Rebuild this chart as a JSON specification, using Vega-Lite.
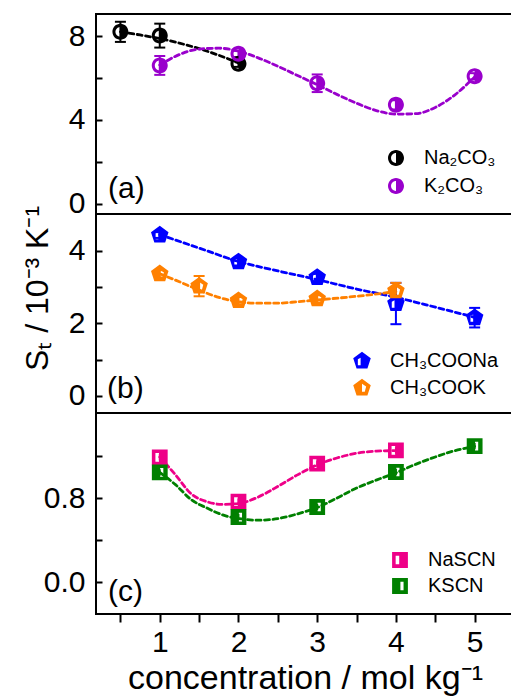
{
  "$schema": "https://vega.github.io/schema/vega-lite/v6.json",
  "padding": {"left": 20, "top": 13, "right": 0, "bottom": 0},
  "config": {
    "font": "Liberation Sans",
    "view": {"stroke": "black", "strokeWidth": 2},
    "axis": {"domain": false, "grid": false, "tickColor": "black", "tickWidth": 2, "labelFont": "Liberation Sans", "labelColor": "black", "labelFontSize": 30, "titleFont": "Liberation Sans", "titleFontWeight": "normal", "titleFontSize": 34, "titleColor": "black"},
    "legend": {"labelFont": "Liberation Sans", "labelFontSize": 20, "labelColor": "black"},
    "line": {"strokeDash": [5, 3.5], "strokeWidth": 2.8, "interpolate": "monotone", "strokeCap": "round"},
    "rule": {"strokeWidth": 2},
    "tick": {"orient": "horizontal", "thickness": 2, "opacity": 1}
  },
  "datasets": {
    "ptsA": [
      {"salt": "Na₂CO₃", "x": 0.5, "y": 8.2, "lo": 7.72, "hi": 8.68},
      {"salt": "Na₂CO₃", "x": 1, "y": 8.02, "lo": 7.45, "hi": 8.59},
      {"salt": "Na₂CO₃", "x": 2, "y": 6.68, "lo": 6.53, "hi": 6.83},
      {"salt": "K₂CO₃", "x": 1, "y": 6.6, "lo": 6.15, "hi": 7.05},
      {"salt": "K₂CO₃", "x": 2, "y": 7.15, "lo": 7.0, "hi": 7.3},
      {"salt": "K₂CO₃", "x": 3, "y": 5.75, "lo": 5.33, "hi": 6.17},
      {"salt": "K₂CO₃", "x": 4, "y": 4.72, "lo": 4.5, "hi": 4.94},
      {"salt": "K₂CO₃", "x": 5, "y": 6.08, "lo": 5.93, "hi": 6.23}
    ],
    "curveA": [
      {"salt": "Na₂CO₃", "x": 0.5, "y": 8.2},
      {"salt": "Na₂CO₃", "x": 0.75, "y": 8.05},
      {"salt": "Na₂CO₃", "x": 1, "y": 7.88},
      {"salt": "Na₂CO₃", "x": 1.25, "y": 7.66},
      {"salt": "Na₂CO₃", "x": 1.5, "y": 7.4},
      {"salt": "Na₂CO₃", "x": 1.75, "y": 7.08},
      {"salt": "Na₂CO₃", "x": 2, "y": 6.72},
      {"salt": "K₂CO₃", "x": 1, "y": 6.62},
      {"salt": "K₂CO₃", "x": 1.25, "y": 7.12},
      {"salt": "K₂CO₃", "x": 1.5, "y": 7.38},
      {"salt": "K₂CO₃", "x": 1.75, "y": 7.42},
      {"salt": "K₂CO₃", "x": 2, "y": 7.28},
      {"salt": "K₂CO₃", "x": 2.25, "y": 6.96},
      {"salt": "K₂CO₃", "x": 2.5, "y": 6.56},
      {"salt": "K₂CO₃", "x": 2.75, "y": 6.12},
      {"salt": "K₂CO₃", "x": 3, "y": 5.68},
      {"salt": "K₂CO₃", "x": 3.25, "y": 5.22},
      {"salt": "K₂CO₃", "x": 3.5, "y": 4.8},
      {"salt": "K₂CO₃", "x": 3.75, "y": 4.45},
      {"salt": "K₂CO₃", "x": 4, "y": 4.28},
      {"salt": "K₂CO₃", "x": 4.25, "y": 4.3},
      {"salt": "K₂CO₃", "x": 4.5, "y": 4.6},
      {"salt": "K₂CO₃", "x": 4.75, "y": 5.2},
      {"salt": "K₂CO₃", "x": 5, "y": 6.05}
    ],
    "ptsB": [
      {"salt": "CH₃COONa", "x": 1, "y": 4.44, "lo": 4.36, "hi": 4.52},
      {"salt": "CH₃COONa", "x": 2, "y": 3.7, "lo": 3.6, "hi": 3.8},
      {"salt": "CH₃COONa", "x": 3, "y": 3.27, "lo": 3.17, "hi": 3.37},
      {"salt": "CH₃COONa", "x": 4, "y": 2.55, "lo": 1.98, "hi": 3.12},
      {"salt": "CH₃COONa", "x": 5, "y": 2.16, "lo": 1.89, "hi": 2.43},
      {"salt": "CH₃COOK", "x": 1, "y": 3.37, "lo": 3.27, "hi": 3.47},
      {"salt": "CH₃COOK", "x": 1.5, "y": 3.03, "lo": 2.75, "hi": 3.31},
      {"salt": "CH₃COOK", "x": 2, "y": 2.63, "lo": 2.53, "hi": 2.73},
      {"salt": "CH₃COOK", "x": 3, "y": 2.68, "lo": 2.58, "hi": 2.78},
      {"salt": "CH₃COOK", "x": 4, "y": 2.9, "lo": 2.68, "hi": 3.12}
    ],
    "curveB": [
      {"salt": "CH₃COONa", "x": 1, "y": 4.45},
      {"salt": "CH₃COONa", "x": 1.5, "y": 4.08},
      {"salt": "CH₃COONa", "x": 2, "y": 3.71},
      {"salt": "CH₃COONa", "x": 2.5, "y": 3.45},
      {"salt": "CH₃COONa", "x": 3, "y": 3.21},
      {"salt": "CH₃COONa", "x": 3.5, "y": 2.95},
      {"salt": "CH₃COONa", "x": 4, "y": 2.72},
      {"salt": "CH₃COONa", "x": 4.5, "y": 2.45},
      {"salt": "CH₃COONa", "x": 5, "y": 2.17},
      {"salt": "CH₃COOK", "x": 1, "y": 3.37},
      {"salt": "CH₃COOK", "x": 1.25, "y": 3.15},
      {"salt": "CH₃COOK", "x": 1.5, "y": 2.92},
      {"salt": "CH₃COOK", "x": 1.75, "y": 2.72},
      {"salt": "CH₃COOK", "x": 2, "y": 2.6},
      {"salt": "CH₃COOK", "x": 2.25, "y": 2.56},
      {"salt": "CH₃COOK", "x": 2.5, "y": 2.56},
      {"salt": "CH₃COOK", "x": 2.75, "y": 2.6},
      {"salt": "CH₃COOK", "x": 3, "y": 2.65},
      {"salt": "CH₃COOK", "x": 3.5, "y": 2.75},
      {"salt": "CH₃COOK", "x": 4, "y": 2.88}
    ],
    "ptsC": [
      {"salt": "NaSCN", "x": 1, "y": 1.186, "lo": 1.156, "hi": 1.216},
      {"salt": "NaSCN", "x": 2, "y": 0.766, "lo": 0.736, "hi": 0.796},
      {"salt": "NaSCN", "x": 3, "y": 1.126, "lo": 1.096, "hi": 1.156},
      {"salt": "NaSCN", "x": 4, "y": 1.252, "lo": 1.222, "hi": 1.282},
      {"salt": "KSCN", "x": 1, "y": 1.043, "lo": 1.013, "hi": 1.073},
      {"salt": "KSCN", "x": 2, "y": 0.62, "lo": 0.59, "hi": 0.65},
      {"salt": "KSCN", "x": 3, "y": 0.715, "lo": 0.685, "hi": 0.745},
      {"salt": "KSCN", "x": 4, "y": 1.047, "lo": 1.017, "hi": 1.077},
      {"salt": "KSCN", "x": 5, "y": 1.293, "lo": 1.263, "hi": 1.323}
    ],
    "curveC": [
      {"salt": "NaSCN", "x": 1, "y": 1.19},
      {"salt": "NaSCN", "x": 1.2, "y": 1.02},
      {"salt": "NaSCN", "x": 1.4, "y": 0.84},
      {"salt": "NaSCN", "x": 1.6, "y": 0.765},
      {"salt": "NaSCN", "x": 1.8, "y": 0.74},
      {"salt": "NaSCN", "x": 2, "y": 0.748},
      {"salt": "NaSCN", "x": 2.25, "y": 0.81},
      {"salt": "NaSCN", "x": 2.5, "y": 0.91},
      {"salt": "NaSCN", "x": 2.75, "y": 1.02},
      {"salt": "NaSCN", "x": 3, "y": 1.115},
      {"salt": "NaSCN", "x": 3.25, "y": 1.18},
      {"salt": "NaSCN", "x": 3.5, "y": 1.225},
      {"salt": "NaSCN", "x": 3.75, "y": 1.245},
      {"salt": "NaSCN", "x": 4, "y": 1.25},
      {"salt": "KSCN", "x": 1, "y": 1.043},
      {"salt": "KSCN", "x": 1.2, "y": 0.927},
      {"salt": "KSCN", "x": 1.4, "y": 0.785},
      {"salt": "KSCN", "x": 1.6, "y": 0.705},
      {"salt": "KSCN", "x": 1.8, "y": 0.64},
      {"salt": "KSCN", "x": 2, "y": 0.605},
      {"salt": "KSCN", "x": 2.25, "y": 0.59},
      {"salt": "KSCN", "x": 2.5, "y": 0.605},
      {"salt": "KSCN", "x": 2.75, "y": 0.65},
      {"salt": "KSCN", "x": 3, "y": 0.71},
      {"salt": "KSCN", "x": 3.25, "y": 0.8},
      {"salt": "KSCN", "x": 3.5, "y": 0.895},
      {"salt": "KSCN", "x": 3.75, "y": 0.97},
      {"salt": "KSCN", "x": 4, "y": 1.04},
      {"salt": "KSCN", "x": 4.25, "y": 1.12},
      {"salt": "KSCN", "x": 4.5, "y": 1.19},
      {"salt": "KSCN", "x": 4.75, "y": 1.25},
      {"salt": "KSCN", "x": 5, "y": 1.29}
    ]
  },
  "vconcat": [
    {
      "width": 418, "height": 200,
      "encoding": {
        "x": {"field": "x", "type": "quantitative", "scale": {"domain": [0.19, 5.5], "nice": false, "zero": false}, "axis": null}
      },
      "layer": [
        {"data": {"name": "curveA"}, "transform": [{"filter": "datum.salt === 'Na₂CO₃'"}], "mark": {"type": "line", "color": "#000000"},
         "encoding": {
           "y": {"field": "y", "type": "quantitative", "scale": {"domain": [-0.48, 9.05], "nice": false, "zero": false},
                 "axis": {"values": [0, 2, 4, 6, 8], "labelExpr": "datum.value % 4 === 0 ? datum.label : ''", "tickSize": -6, "labelPadding": 17, "labelAlign": "right", "labelBaseline": "middle", "title": null}}
         }},
        {"data": {"name": "curveA"}, "transform": [{"filter": "datum.salt === 'K₂CO₃'"}], "mark": {"type": "line", "color": "#9900cc"},
         "encoding": {"y": {"field": "y", "type": "quantitative"}}},
        {"data": {"name": "ptsA"}, "transform": [{"filter": "datum.salt === 'Na₂CO₃'"}], "mark": {"type": "rule", "color": "#000000"},
         "encoding": {"y": {"field": "lo", "type": "quantitative"}, "y2": {"field": "hi"}}},
        {"data": {"name": "ptsA"}, "transform": [{"filter": "datum.salt === 'K₂CO₃'"}], "mark": {"type": "rule", "color": "#9900cc"},
         "encoding": {"y": {"field": "lo", "type": "quantitative"}, "y2": {"field": "hi"}}},
        {"data": {"name": "ptsA"}, "transform": [{"filter": "datum.salt === 'Na₂CO₃'"}, {"fold": ["lo", "hi"], "as": ["end", "v"]}], "mark": {"type": "tick", "color": "#000000", "size": 11},
         "encoding": {"y": {"field": "v", "type": "quantitative"}}},
        {"data": {"name": "ptsA"}, "transform": [{"filter": "datum.salt === 'K₂CO₃'"}, {"fold": ["lo", "hi"], "as": ["end", "v"]}], "mark": {"type": "tick", "color": "#9900cc", "size": 11},
         "encoding": {"y": {"field": "v", "type": "quantitative"}}},
        {"data": {"name": "ptsA"}, "mark": {"type": "point", "filled": true, "opacity": 1, "size": 256},
         "encoding": {
           "y": {"field": "y", "type": "quantitative"},
           "color": {"field": "salt", "type": "nominal", "scale": {"domain": ["Na₂CO₃", "K₂CO₃"], "range": ["#000000", "#9900cc"]}, "legend": {"orient": "bottom-right", "title": null, "offset": 18, "symbolSize": 256, "labelOffset": 18, "rowPadding": 8}},
           "shape": {"field": "salt", "type": "nominal", "scale": {"domain": ["Na₂CO₃", "K₂CO₃"], "range": ["M0,-1A1,1,0,1,1,0,1A1,1,0,1,1,0,-1ZM0,-0.62A0.62,0.62,0,0,0,0,0.62Z", "M0,-1A1,1,0,1,1,0,1A1,1,0,1,1,0,-1ZM0,-0.62A0.62,0.62,0,0,0,0,0.62Z"]}, "legend": {"orient": "bottom-right", "title": null, "offset": 18, "symbolSize": 256, "labelOffset": 18, "rowPadding": 8}}
         }},
        {"data": {"values": [{"label": "(a)", "x": 0.342, "y": 0.3}]}, "mark": {"type": "text", "align": "left", "baseline": "alphabetic", "fontSize": 30, "color": "black"},
         "encoding": {"y": {"field": "y", "type": "quantitative"}, "text": {"field": "label"}}}
      ]
    },
    {
      "width": 418, "height": 199,
      "encoding": {
        "x": {"field": "x", "type": "quantitative", "scale": {"domain": [0.19, 5.5], "nice": false, "zero": false}, "axis": null}
      },
      "layer": [
        {"data": {"name": "curveB"}, "transform": [{"filter": "datum.salt === 'CH₃COONa'"}], "mark": {"type": "line", "color": "#0000ff"},
         "encoding": {
           "y": {"field": "y", "type": "quantitative", "scale": {"domain": [-0.47, 5.02], "nice": false, "zero": false},
                 "axis": {"values": [0, 1, 2, 3, 4], "labelExpr": "datum.value % 2 === 0 ? datum.label : ''", "tickSize": -6, "labelPadding": 17, "labelAlign": "right", "labelBaseline": "middle", "title": "Sₜ / 10⁻³ K⁻¹", "titleFontSize": 32, "titlePadding": 14, "titleY": 74}}
         }},
        {"data": {"name": "curveB"}, "transform": [{"filter": "datum.salt === 'CH₃COOK'"}], "mark": {"type": "line", "color": "#ff8000"},
         "encoding": {"y": {"field": "y", "type": "quantitative"}}},
        {"data": {"name": "ptsB"}, "transform": [{"filter": "datum.salt === 'CH₃COONa'"}], "mark": {"type": "rule", "color": "#0000ff"},
         "encoding": {"y": {"field": "lo", "type": "quantitative"}, "y2": {"field": "hi"}}},
        {"data": {"name": "ptsB"}, "transform": [{"filter": "datum.salt === 'CH₃COOK'"}], "mark": {"type": "rule", "color": "#ff8000"},
         "encoding": {"y": {"field": "lo", "type": "quantitative"}, "y2": {"field": "hi"}}},
        {"data": {"name": "ptsB"}, "transform": [{"filter": "datum.salt === 'CH₃COONa'"}, {"fold": ["lo", "hi"], "as": ["end", "v"]}], "mark": {"type": "tick", "color": "#0000ff", "size": 11},
         "encoding": {"y": {"field": "v", "type": "quantitative"}}},
        {"data": {"name": "ptsB"}, "transform": [{"filter": "datum.salt === 'CH₃COOK'"}, {"fold": ["lo", "hi"], "as": ["end", "v"]}], "mark": {"type": "tick", "color": "#ff8000", "size": 11},
         "encoding": {"y": {"field": "v", "type": "quantitative"}}},
        {"data": {"name": "ptsB"}, "mark": {"type": "point", "filled": true, "opacity": 1, "size": 340},
         "encoding": {
           "y": {"field": "y", "type": "quantitative"},
           "color": {"field": "salt", "type": "nominal", "scale": {"domain": ["CH₃COONa", "CH₃COOK"], "range": ["#0000ff", "#ff8000"]}, "legend": {"orient": "bottom-right", "title": null, "offset": 15, "symbolSize": 340, "labelOffset": 18, "rowPadding": 7}},
           "shape": {"field": "salt", "type": "nominal", "scale": {"domain": ["CH₃COONa", "CH₃COOK"], "range": ["M0,-1L0.951,-0.309L0.588,0.809L-0.588,0.809L-0.951,-0.309ZM-0.45,-0.2L-0.45,0.45L-0.15,0.45L-0.15,-0.35Z", "M0,-1L0.951,-0.309L0.588,0.809L-0.588,0.809L-0.951,-0.309ZM0,-0.45L0,0.42L0.3,0.42L0.45,-0.15Z"]}, "legend": {"orient": "bottom-right", "title": null, "offset": 15, "symbolSize": 340, "labelOffset": 18, "rowPadding": 7}}
         }},
        {"data": {"values": [{"label": "(b)", "x": 0.33, "y": -0.06}]}, "mark": {"type": "text", "align": "left", "baseline": "alphabetic", "fontSize": 30, "color": "black"},
         "encoding": {"y": {"field": "y", "type": "quantitative"}, "text": {"field": "label"}}}
      ]
    },
    {
      "width": 418, "height": 201,
      "encoding": {
        "x": {"field": "x", "type": "quantitative", "scale": {"domain": [0.19, 5.5], "nice": false, "zero": false},
              "axis": {"values": [0.5, 1, 1.5, 2, 2.5, 3, 3.5, 4, 4.5, 5], "labelExpr": "datum.value % 1 === 0 ? format(datum.value, 'd') : ''", "tickSize": 8, "labelPadding": 5, "title": "concentration / mol kg⁻¹", "titlePadding": 4, "labelFlush": false}}
      },
      "layer": [
        {"data": {"name": "curveC"}, "transform": [{"filter": "datum.salt === 'NaSCN'"}], "mark": {"type": "line", "color": "#ee0088"},
         "encoding": {
           "y": {"field": "y", "type": "quantitative", "scale": {"domain": [-0.3, 1.607], "nice": false, "zero": false},
                 "axis": {"values": [0, 0.4, 0.8, 1.2], "labelExpr": "(datum.value === 0 || datum.value === 0.8) ? format(datum.value, '.1f') : ''", "tickSize": -6, "labelPadding": 17, "labelAlign": "right", "labelBaseline": "middle", "title": null}}
         }},
        {"data": {"name": "curveC"}, "transform": [{"filter": "datum.salt === 'KSCN'"}], "mark": {"type": "line", "color": "#008000"},
         "encoding": {"y": {"field": "y", "type": "quantitative"}}},
        {"data": {"name": "ptsC"}, "transform": [{"filter": "datum.salt === 'NaSCN'"}], "mark": {"type": "rule", "color": "#ee0088"},
         "encoding": {"y": {"field": "lo", "type": "quantitative"}, "y2": {"field": "hi"}}},
        {"data": {"name": "ptsC"}, "transform": [{"filter": "datum.salt === 'KSCN'"}], "mark": {"type": "rule", "color": "#008000"},
         "encoding": {"y": {"field": "lo", "type": "quantitative"}, "y2": {"field": "hi"}}},
        {"data": {"name": "ptsC"}, "mark": {"type": "point", "filled": true, "opacity": 1, "size": 250},
         "encoding": {
           "y": {"field": "y", "type": "quantitative"},
           "color": {"field": "salt", "type": "nominal", "scale": {"domain": ["NaSCN", "KSCN"], "range": ["#ee0088", "#008000"]}, "legend": {"orient": "bottom-right", "title": null, "offset": 18, "symbolSize": 250, "labelOffset": 18, "rowPadding": 6}},
           "shape": {"field": "salt", "type": "nominal", "scale": {"domain": ["NaSCN", "KSCN"], "range": ["M-1,-1L1,-1L1,1L-1,1ZM-0.55,-0.55L-0.55,0.55L-0.1,0.55L-0.1,-0.55Z", "M-1,-1L1,-1L1,1L-1,1ZM0.05,-0.55L0.05,0.55L0.45,0.55L0.45,-0.55Z"]}, "legend": {"orient": "bottom-right", "title": null, "offset": 18, "symbolSize": 250, "labelOffset": 18, "rowPadding": 6}}
         }},
        {"data": {"values": [{"label": "(c)", "x": 0.342, "y": -0.177}]}, "mark": {"type": "text", "align": "left", "baseline": "alphabetic", "fontSize": 30, "color": "black"},
         "encoding": {"y": {"field": "y", "type": "quantitative"}, "text": {"field": "label"}}}
      ]
    }
  ],
  "spacing": 0,
  "bounds": "flush",
  "resolve": {"scale": {"color": "independent", "shape": "independent"}, "legend": {"color": "independent", "shape": "independent"}}
}
